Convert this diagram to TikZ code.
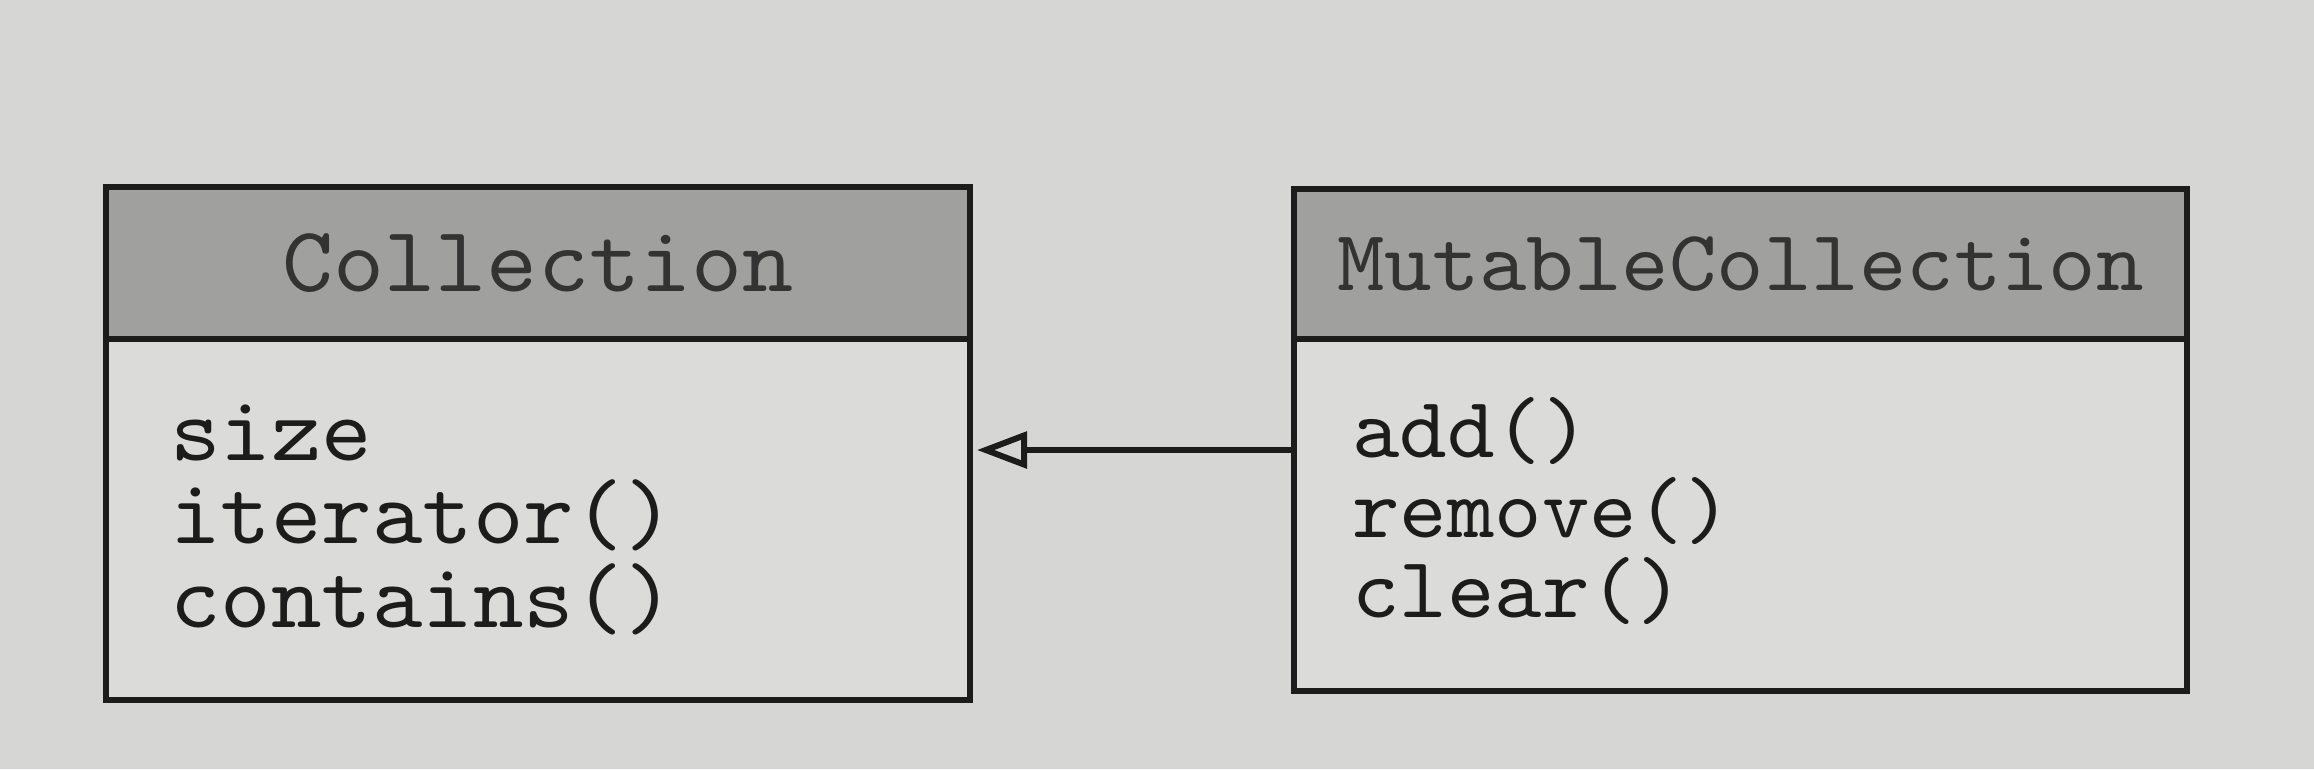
\documentclass[tikz,border=0pt]{standalone}
\usepackage{fontspec}
\newfontfamily\codefont{lmmono10-regular.otf}[FakeStretch=1.045]
\usetikzlibrary{arrows.meta}
\definecolor{paper}{RGB}{214,214,212}
\definecolor{bodyfill}{RGB}{219,219,217}
\definecolor{headfill}{RGB}{160,160,158}
\definecolor{ink}{RGB}{28,28,28}
\newcommand{\memberlines}[2]{\vtop{\baselineskip=#1\lineskiplimit=-1000pt\lineskip=0pt #2}}
\tikzset{
  classhead/.style={draw=ink, line width=6pt, fill=headfill, rectangle, inner sep=0pt, anchor=north west, text=ink!90},
  classbody/.style={draw=ink, line width=6pt, fill=bodyfill, rectangle, inner sep=0pt, anchor=north west},
  members/.style={anchor=base west, inner sep=0pt, text=ink},
  inherit/.style={draw=ink, line width=6pt, -{Triangle[open, length=50pt, width=36pt]}, shorten >=4pt}
}
\begin{document}
\begin{tikzpicture}[x=1pt,y=-1pt]
\fill[paper] (0,0) rectangle (2314,769);
\useasboundingbox (0,0) rectangle (2314,769);
% Collection
\node[classbody, minimum width=864pt, minimum height=361pt] (colbody) at (103,336) {};
\node[classhead, minimum width=864pt, minimum height=152pt, font=\codefont\fontsize{93}{93}\selectfont] (colhead) at (103,184) {Collection};
\node[members, font=\codefont\fontsize{92}{92}\selectfont] (colmembers) at (170,460)
  {\memberlines{83.5pt}{\hbox{size}\hbox{iterator()}\hbox{contains()}}};
% MutableCollection
\node[classbody, minimum width=893pt, minimum height=352pt] (mutbody) at (1291,336) {};
\node[classhead, minimum width=893pt, minimum height=150pt, font=\codefont\fontsize{86.5}{87}\selectfont] (muthead) at (1291,186) {MutableCollection};
\node[members, font=\codefont\fontsize{86.5}{87}\selectfont] (mutmembers) at (1352,457)
  {\memberlines{80pt}{\hbox{add()}\hbox{remove()}\hbox{clear()}}};
% generalization
\coordinate (ay) at (0,450);
\draw[inherit] (mutbody.west |- ay) -- (colbody.east |- ay);
\end{tikzpicture}
\end{document}
